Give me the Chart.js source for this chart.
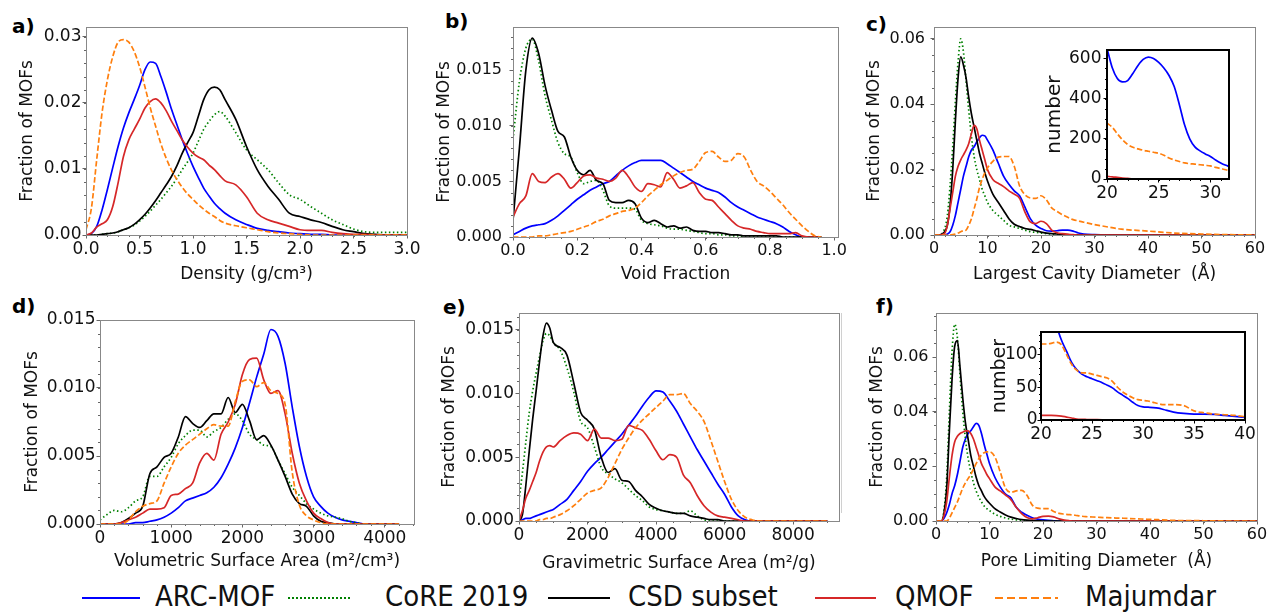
<!DOCTYPE html>
<html>
<head>
<meta charset="utf-8">
<title>MOF property distributions</title>
<script src="https://cdn.jsdelivr.net/npm/chart.js@4.4.1/dist/chart.umd.min.js"></script>
<style>
  html, body { margin: 0; padding: 0; background: #fff; }
  #page { position: relative; width: 1271px; height: 613px; overflow: hidden; background: #fff; }
  #page canvas { position: absolute; }
  .tag { position: absolute; font: bold 20px/20px "DejaVu Sans", sans-serif; color: #000; }
  .key { position: absolute; height: 2px; top: 597px; }
  .keytxt { position: absolute; top: 582px; font: 29px/29px "DejaVu Sans Condensed", "DejaVu Sans", sans-serif; color: #111; white-space: nowrap; }
</style>
</head>
<body>
<div id="page">
  <div class="tag" style="left:12px; top:16px">a)</div>
  <div class="tag" style="left:445px; top:11px">b)</div>
  <div class="tag" style="left:866px; top:14px">c)</div>
  <div class="tag" style="left:12px; top:296px">d)</div>
  <div class="tag" style="left:443px; top:297px">e)</div>
  <div class="tag" style="left:876px; top:296px">f)</div>
  <div style="position:absolute; left:841px; top:313px; width:1px; height:200px; background:#d0d0d0"></div>

  <div class="key" style="left:82px; width:58px; background:#0000ff"></div>
  <div class="keytxt" style="left:155px">ARC-MOF</div>
  <div class="key" style="left:288px; width:64px; background:repeating-linear-gradient(to right, #008000 0 2px, transparent 2px 4px)"></div>
  <div class="keytxt" style="left:385px">CoRE 2019</div>
  <div class="key" style="left:548px; width:62px; background:#000"></div>
  <div class="keytxt" style="left:628px">CSD subset</div>
  <div class="key" style="left:815px; width:61px; background:#d62728"></div>
  <div class="keytxt" style="left:895px">QMOF</div>
  <div class="key" style="left:995px; width:63px; background:repeating-linear-gradient(to right, #ff7f0e 0 8px, transparent 8px 12px)"></div>
  <div class="keytxt" style="left:1085px">Majumdar</div>
</div>
<script>
// series: ARC-MOF, CoRE 2019, CSD subset, QMOF, Majumdar
const names = ['ARC-MOF', 'CoRE 2019', 'CSD subset', 'QMOF', 'Majumdar'];

// a) density
const xa = [0,0.05,0.1,0.15,0.2,0.25,0.3,0.35,0.4,0.45,0.5,0.55,0.6,0.65,0.7,0.75,0.8,0.85,0.9,0.95,1.0,1.05,1.1,1.15,1.2,1.25,1.3,1.4,1.5,1.6,1.7,1.8,1.9,2.0,2.1,2.2,2.3,2.4,2.5,2.6,2.7,2.8,3.0];
const aArc = [0,0.0002,0.0013,0.0038,0.0069,0.0102,0.0134,0.0162,0.0185,0.0205,0.0226,0.025,0.0262,0.026,0.024,0.0216,0.019,0.0167,0.0144,0.0123,0.0104,0.0087,0.0071,0.0059,0.0048,0.004,0.0033,0.0023,0.0016,0.001,0.0007,0.0005,0.0003,0.0002,0.0001,0.0001,0,0,0,0,0,0,0];
const aCore = [0,0,0,0.0001,0.0002,0.0003,0.0005,0.0008,0.0011,0.0015,0.0021,0.0028,0.0036,0.0045,0.0054,0.0064,0.0074,0.0086,0.0099,0.0111,0.0124,0.0142,0.016,0.0172,0.0182,0.0187,0.018,0.0155,0.0129,0.0114,0.0099,0.0079,0.0061,0.0054,0.0043,0.0033,0.0023,0.0016,0.0009,0.0005,0.0004,0.0004,0.0004];
const aCsd = [0,0,0,0.0001,0.0002,0.0003,0.0005,0.0008,0.0011,0.0016,0.0023,0.0031,0.0041,0.0052,0.0064,0.0076,0.0089,0.0105,0.0124,0.014,0.0155,0.018,0.0205,0.022,0.0224,0.022,0.0205,0.0175,0.0134,0.0099,0.0074,0.0054,0.0033,0.0028,0.0023,0.0019,0.0013,0.0008,0.0005,0.0002,0.0001,0,0];
const aQmof = [0,0.0003,0.0012,0.0017,0.0023,0.0043,0.0079,0.0119,0.0144,0.016,0.0175,0.0192,0.0202,0.0206,0.02,0.0188,0.0172,0.0158,0.0144,0.0133,0.0124,0.0118,0.0114,0.0106,0.0099,0.009,0.0082,0.0076,0.0058,0.0033,0.0023,0.0018,0.0013,0.0008,0.0007,0.0007,0.0004,0.0002,0.0001,0.0001,0,0,0];
const aMaj = [0.0008,0.004,0.0114,0.0185,0.0235,0.027,0.0292,0.0296,0.0292,0.0278,0.0255,0.0225,0.0193,0.0165,0.0138,0.0116,0.0098,0.0084,0.0072,0.0062,0.0054,0.0046,0.0039,0.0033,0.0028,0.0022,0.0018,0.0014,0.0011,0.0008,0.0005,0.0003,0.0002,0.0001,0,0,0,0,0,0,0,0,0];
const aXTicks = [0, 0.5, 1, 1.5, 2, 2.5, 3];
const aYTicks = [0, 0.01, 0.02, 0.03];

// b) void fraction
const xb = [0,0.02,0.04,0.06,0.08,0.1,0.12,0.14,0.16,0.18,0.2,0.22,0.24,0.26,0.28,0.3,0.32,0.34,0.36,0.38,0.4,0.42,0.44,0.46,0.48,0.5,0.52,0.54,0.56,0.58,0.6,0.62,0.64,0.66,0.68,0.7,0.72,0.74,0.76,0.78,0.8,0.82,0.84,0.86,0.88,0.9,0.92,0.94,0.96];
const bArc = [0.0002,0.0005,0.0008,0.001,0.0011,0.0012,0.0015,0.0019,0.0024,0.0029,0.0034,0.0038,0.0042,0.0045,0.0048,0.005,0.0055,0.006,0.0064,0.0067,0.0069,0.0069,0.0069,0.0069,0.0066,0.0062,0.0058,0.0054,0.005,0.0047,0.0044,0.0042,0.004,0.0036,0.0031,0.0027,0.0024,0.0021,0.0018,0.0016,0.0014,0.0012,0.0009,0.0005,0.0002,0,0,0,0];
const bCore = [0.0088,0.014,0.017,0.0178,0.0158,0.0127,0.0105,0.0085,0.0075,0.0072,0.0058,0.0048,0.005,0.0051,0.0042,0.0028,0.0026,0.0026,0.0026,0.0025,0.0015,0.0012,0.0011,0.001,0.0008,0.0007,0.0007,0.0006,0.0005,0.0004,0.0003,0.0003,0.0002,0.0002,0.0001,0.0001,0,0,0,0,0,0,0,0,0,0,0,0,0];
const bCsd = [0.0015,0.008,0.015,0.0179,0.0165,0.0136,0.0114,0.0095,0.009,0.0072,0.006,0.0056,0.006,0.0051,0.0048,0.0033,0.0031,0.0031,0.0033,0.003,0.0017,0.0013,0.0015,0.0012,0.0009,0.001,0.0008,0.0009,0.0006,0.0005,0.0005,0.0004,0.0004,0.0003,0.0002,0.0002,0.0001,0.0001,0.0001,0.0001,0.0001,0.0001,0,0,0,0,0,0,0];
const bQmof = [0.0018,0.003,0.0037,0.0057,0.005,0.0049,0.0054,0.0057,0.0052,0.0044,0.0049,0.0055,0.0056,0.0053,0.0052,0.005,0.0053,0.006,0.0054,0.0045,0.0041,0.0048,0.0047,0.0045,0.0058,0.0052,0.0044,0.0046,0.0049,0.004,0.0034,0.0033,0.0027,0.0021,0.0015,0.001,0.0008,0.0007,0.0005,0.0004,0.0003,0.0003,0.0003,0.0003,0.0004,0.0001,0,0,0];
const bMaj = [0,0,0,0,0.0001,0.0001,0.0002,0.0003,0.0004,0.0005,0.0007,0.0009,0.0011,0.0014,0.0016,0.0019,0.0021,0.0023,0.0024,0.0026,0.0031,0.0037,0.0042,0.0047,0.0051,0.0055,0.0058,0.006,0.0061,0.0068,0.0076,0.0077,0.0072,0.0068,0.0069,0.0075,0.0072,0.006,0.005,0.0046,0.0041,0.0035,0.0029,0.0022,0.0016,0.001,0.0005,0.0001,0];
const bXTicks = [0, 0.2, 0.4, 0.6, 0.8, 1];
const bYTicks = [0, 0.005, 0.01, 0.015];

// c) largest cavity diameter
const xc = [0,1,2,2.5,3,3.5,4,4.5,5,5.5,6,6.5,7,7.5,8,8.5,9,9.5,10,11,12,13,14,15,16,17,18,19,20,21,22,23,24,25,26,27,28,30,32,35,40,45,50,55,60];
const cArc = [0,0,0,0.0003,0.001,0.003,0.006,0.01,0.014,0.018,0.021,0.024,0.026,0.027,0.0285,0.0297,0.0305,0.0303,0.029,0.026,0.022,0.018,0.0155,0.0135,0.012,0.0085,0.005,0.003,0.002,0.0013,0.0012,0.0013,0.0015,0.0015,0.0012,0.0006,0.0003,0.0001,0,0,0,0,0,0,0];
const cCore = [0,0,0.002,0.006,0.015,0.027,0.041,0.053,0.06,0.056,0.047,0.038,0.03,0.024,0.02,0.017,0.014,0.012,0.01,0.0075,0.006,0.0045,0.003,0.0025,0.002,0.0015,0.001,0.0008,0.0006,0.0004,0.0003,0.0002,0.0001,0,0,0,0,0,0,0,0,0,0,0,0];
const cCsd = [0,0,0.001,0.003,0.009,0.02,0.035,0.048,0.0545,0.052,0.048,0.042,0.037,0.033,0.029,0.025,0.022,0.019,0.0165,0.0125,0.01,0.0075,0.005,0.0033,0.0026,0.002,0.0017,0.0013,0.0009,0.0006,0.0004,0.0003,0.0002,0.0001,0,0,0,0,0,0,0,0,0,0,0];
const cQmof = [0,0,0.0005,0.003,0.008,0.013,0.018,0.021,0.023,0.0245,0.026,0.028,0.031,0.0335,0.0325,0.029,0.026,0.023,0.02,0.017,0.0158,0.0148,0.0135,0.0125,0.0112,0.007,0.004,0.0035,0.0042,0.0035,0.0015,0.0007,0.0004,0.0002,0.0001,0,0,0,0,0,0,0,0,0,0];
const cMaj = [0,0,0,0,0,0.0001,0.0003,0.0006,0.001,0.0013,0.0015,0.003,0.005,0.008,0.011,0.0145,0.017,0.019,0.0205,0.0225,0.0238,0.024,0.024,0.021,0.015,0.0123,0.0113,0.0112,0.012,0.0108,0.0083,0.0072,0.0062,0.0054,0.0047,0.0043,0.0039,0.0032,0.0026,0.0018,0.0012,0.0006,0.0003,0.0001,0];
const cXTicks = [0, 10, 20, 30, 40, 50, 60];
const cYTicks = [0, 0.02, 0.04, 0.06];

// c) inset, counts
const xic = [20,20.5,21,21.5,22,22.5,23,23.5,24,24.5,25,25.5,26,26.5,27,27.5,28,28.5,29,29.5,30,30.5,31,31.5,31.8];
const icArc = [650,555,500,483,490,525,565,595,607,600,580,552,515,460,370,270,200,160,140,125,112,95,80,68,62];
const icQmof = [13,11,8,5,3,1,0,0,0,0,0,0,0,0,0,0,0,0,0,0,0,0,0,0,0];
const icMaj = [278,258,225,195,172,158,150,143,138,133,128,118,105,95,87,80,76,74,71,68,65,58,52,46,43];
const icXTicks = [20, 25, 30];
const icYTicks = [0, 200, 400, 600];

// d) volumetric surface area
const xd = [0,100,200,300,400,500,600,700,800,900,1000,1100,1200,1300,1400,1500,1600,1700,1800,1900,2000,2100,2200,2300,2400,2500,2600,2700,2800,2900,3000,3100,3200,3300,3400,3500,3600,3700,3800,3900,4000,4100,4200];
const dArc = [0,0,0,0,0,0.0001,0.0001,0.0002,0.0003,0.0005,0.0008,0.0012,0.0017,0.0019,0.0021,0.0023,0.0027,0.0034,0.0044,0.0056,0.0071,0.0089,0.0108,0.0125,0.0143,0.0138,0.0118,0.0086,0.0057,0.0035,0.002,0.0013,0.0008,0.0005,0.0003,0.0002,0.0001,0,0,0,0,0,0];
const dCore = [0.0003,0.0007,0.001,0.0009,0.0012,0.0017,0.002,0.0035,0.0035,0.0042,0.0049,0.0059,0.0065,0.0069,0.0069,0.0064,0.0068,0.0071,0.0077,0.0081,0.0076,0.0066,0.0062,0.0058,0.0057,0.0047,0.0037,0.0027,0.0021,0.0015,0.0011,0.0008,0.0006,0.0005,0.0004,0.0002,0.0001,0,0,0,0,0,0];
const dCsd = [0,0,0,0.0001,0.0004,0.0008,0.0013,0.0037,0.0042,0.0049,0.0052,0.0064,0.0079,0.0074,0.0071,0.0076,0.0081,0.0081,0.0093,0.0082,0.0088,0.0076,0.0062,0.0065,0.0058,0.0047,0.0035,0.0022,0.0015,0.0013,0.0006,0.0002,0.0001,0,0,0,0,0,0,0,0,0,0];
const dQmof = [0,0,0,0.0001,0.0003,0.0005,0.0008,0.0011,0.0011,0.0012,0.0021,0.0022,0.0026,0.003,0.0045,0.0052,0.0047,0.0066,0.0075,0.0088,0.011,0.0121,0.0122,0.0106,0.0096,0.0098,0.0081,0.0052,0.003,0.0017,0.0008,0.0004,0.0001,0,0,0,0,0,0,0,0,0,0];
const dMaj = [0,0,0,0,0.0003,0.0009,0.0013,0.0015,0.0017,0.003,0.0042,0.0052,0.0058,0.0062,0.0066,0.007,0.0073,0.0072,0.0072,0.009,0.0105,0.0106,0.0101,0.0104,0.0098,0.0096,0.0088,0.0038,0.0014,0.0006,0.0003,0.0001,0,0,0,0,0,0,0,0,0,0,0];
const dXTicks = [0, 1000, 2000, 3000, 4000];
const dYTicks = [0, 0.005, 0.01, 0.015];

// e) gravimetric surface area
const xe = [0,100,200,300,400,500,600,700,800,900,1000,1200,1400,1600,1800,2000,2200,2400,2600,2800,3000,3200,3400,3600,3800,4000,4200,4400,4600,4800,5000,5200,5400,5600,5800,6000,6200,6400,6600,6800,7000,7500,8000,8500,9000];
const eArc = [0,0.0001,0.0002,0.0002,0.0003,0.0004,0.0005,0.0006,0.0007,0.0008,0.0009,0.0013,0.0017,0.0024,0.0031,0.0039,0.0045,0.005,0.0056,0.0062,0.0068,0.0075,0.0082,0.009,0.0097,0.0102,0.0101,0.0094,0.0086,0.0076,0.0066,0.0056,0.0047,0.0038,0.0029,0.0021,0.0011,0.0004,0.0001,0,0,0,0,0,0];
const eCore = [0.0016,0.0038,0.0062,0.0085,0.0102,0.0116,0.0129,0.0141,0.0147,0.0145,0.014,0.0134,0.012,0.0101,0.0078,0.0073,0.0058,0.0042,0.0037,0.0033,0.003,0.0025,0.002,0.0016,0.0011,0.0009,0.0008,0.0007,0.0006,0.0006,0.0008,0.0004,0.0001,0,0,0,0,0,0,0,0,0,0,0,0];
const eCsd = [0,0.0005,0.0028,0.0055,0.008,0.0102,0.0125,0.0145,0.0155,0.0151,0.014,0.0136,0.013,0.0108,0.0085,0.0079,0.0072,0.005,0.0038,0.0041,0.0032,0.0031,0.0024,0.0019,0.0013,0.001,0.0008,0.0007,0.0006,0.0006,0.0004,0.0003,0.0002,0.0001,0.0001,0,0,0,0,0,0,0,0,0,0];
const eQmof = [0,0.0008,0.0018,0.0024,0.0031,0.0038,0.0047,0.0054,0.0058,0.0059,0.0058,0.0063,0.0067,0.0069,0.0068,0.0063,0.0072,0.0065,0.0065,0.0063,0.0064,0.0075,0.0073,0.0071,0.0064,0.0055,0.0048,0.0052,0.005,0.0036,0.003,0.002,0.0012,0.0007,0.0004,0.0003,0.0002,0.0001,0,0,0,0,0,0,0];
const eMaj = [0,0,0,0,0,0,0.0001,0.0001,0.0002,0.0002,0.0003,0.0005,0.0008,0.0012,0.0017,0.0022,0.0024,0.0026,0.0034,0.0045,0.0056,0.0065,0.0073,0.0079,0.0084,0.0089,0.0094,0.0099,0.0099,0.01,0.0092,0.0086,0.0078,0.0063,0.0047,0.0031,0.0017,0.0008,0.0003,0.0001,0,0,0,0,0];
const eXTicks = [0, 2000, 4000, 6000, 8000];
const eYTicks = [0, 0.005, 0.01, 0.015];

// f) pore limiting diameter
const xf = [0,0.5,1,1.5,2,2.5,3,3.5,4,4.5,5,5.5,6,6.5,7,7.5,8,8.5,9,9.5,10,11,12,13,14,15,16,17,18,19,20,21,22,23,24,25,26,27,28,30,32,35,40,45,50,55,60];
const fArc = [0,0,0,0.001,0.003,0.006,0.01,0.013,0.017,0.022,0.027,0.03,0.032,0.033,0.0345,0.0357,0.035,0.032,0.028,0.0245,0.021,0.016,0.0125,0.0098,0.0085,0.005,0.0032,0.0021,0.0012,0.0007,0.0004,0.0002,0.0001,0,0,0,0,0,0,0,0,0,0,0,0,0,0];
const fCore = [0,0,0,0.004,0.016,0.04,0.062,0.072,0.067,0.053,0.04,0.03,0.023,0.018,0.014,0.011,0.0088,0.007,0.0055,0.0045,0.0038,0.0025,0.0017,0.0011,0.0007,0.0004,0.0002,0.0001,0,0,0,0,0,0,0,0,0,0,0,0,0,0,0,0,0,0,0];
const fCsd = [0,0,0,0.003,0.012,0.033,0.052,0.064,0.066,0.056,0.045,0.036,0.03,0.024,0.02,0.016,0.013,0.011,0.009,0.0076,0.0065,0.0045,0.0033,0.0022,0.0014,0.0009,0.0005,0.0003,0.0002,0.0001,0,0,0,0,0,0,0,0,0,0,0,0,0,0,0,0,0];
const fQmof = [0,0,0,0.002,0.007,0.016,0.024,0.029,0.031,0.032,0.0325,0.033,0.033,0.032,0.03,0.027,0.024,0.021,0.019,0.017,0.0155,0.0125,0.011,0.0095,0.0078,0.005,0.0027,0.0013,0.0008,0.0012,0.0017,0.0018,0.0015,0.0008,0.0003,0.0001,0,0,0,0,0,0,0,0,0,0,0];
const fMaj = [0,0,0,0,0,0.001,0.003,0.005,0.007,0.0095,0.012,0.014,0.0155,0.017,0.019,0.021,0.0228,0.0242,0.025,0.0253,0.0253,0.0235,0.018,0.012,0.0105,0.011,0.0112,0.0094,0.0058,0.0047,0.0045,0.0045,0.0035,0.0028,0.0025,0.0023,0.0021,0.0018,0.0016,0.0014,0.0012,0.001,0.0006,0.0002,0.0001,0,0];
const fXTicks = [0, 10, 20, 30, 40, 50, 60];
const fYTicks = [0, 0.02, 0.04, 0.06];

// f) inset, counts
const xif = [20,20.5,21,21.5,22,22.5,23,23.5,24,24.5,25,25.5,26,26.5,27,27.5,28,28.5,29,29.5,30,30.5,31,31.5,32,33,34,35,36,37,38,39,40];
const ifArc = [230,200,172,145,122,105,88,77,70,66,63,60,57,53,49,43,38,33,27,22,20,19.5,19,18,16,12,10,9,9,8.5,7,5.5,4];
const ifQmof = [7,7,7,6.8,6,4.5,3,1.5,1,0.8,0.6,0.5,0.3,0,0,0,0,0,0,0,0,0,0,0,0,0,0,0,0,0,0,0,0];
const ifMaj = [116,116,117,119,115,100,85,76,72,72,70,68,66,64,59,50,43,38,34,31,30,29,27,25,23.5,23.5,22,14,11,9,8,7,5];
const ifXTicks = [20, 25, 30, 35, 40];
const ifYTicks = [0, 50, 100];

// line styles, one per series
const colors = ['#0000ff', '#008000', '#000000', '#d62728', '#ff7f0e'];
const dashes = [[], [1.5, 2.5], [], [], [5.5, 2.5]];

Chart.defaults.font.family = "'DejaVu Sans', sans-serif";
Chart.defaults.color = '#111';

const page = document.getElementById('page');

function minorTicks(ctx, scale, step, horizontal, a) {
  if (!step) return;
  const n0 = Math.ceil(scale.min / step - 1e-9);
  const n1 = Math.floor(scale.max / step + 1e-9);
  ctx.beginPath();
  for (let i = n0; i <= n1; i++) {
    const p = Math.round(scale.getPixelForValue(i * step)) + 0.5;
    if (horizontal) { ctx.moveTo(p, a.bottom); ctx.lineTo(p, a.bottom + 2); }
    else { ctx.moveTo(a.left - 2, p); ctx.lineTo(a.left, p); }
  }
  ctx.stroke();
}

const framePlugin = {
  id: 'frame',
  beforeDraw(chart, args, o) {
    if (!o.fill) return;
    const a = chart.chartArea, ctx = chart.ctx;
    ctx.save();
    ctx.fillStyle = '#fff';
    ctx.fillRect(a.left, a.top, a.right - a.left, a.bottom - a.top);
    ctx.restore();
  },
  afterDraw(chart, args, o) {
    const a = chart.chartArea, ctx = chart.ctx;
    ctx.save();
    ctx.strokeStyle = o.tickColor;
    ctx.lineWidth = 1;
    minorTicks(ctx, chart.scales.x, o.minorX, true, a);
    minorTicks(ctx, chart.scales.y, o.minorY, false, a);
    ctx.strokeStyle = o.color;
    ctx.lineWidth = o.width;
    const off = o.width % 2 ? 0.5 : 0;
    ctx.strokeRect(Math.round(a.left) + off, Math.round(a.top) + off,
      Math.round(a.right - a.left), Math.round(a.bottom - a.top));
    ctx.restore();
  }
};

function plot(p) {
  const [bx, by, bw, bh] = p.box;
  const [l, t, r, b] = p.area;
  const cv = document.createElement('canvas');
  cv.width = bw; cv.height = bh;
  cv.style.left = bx + 'px'; cv.style.top = by + 'px';
  page.appendChild(cv);

  const datasets = p.series.map(([k, ys]) => ({
    label: names[k],
    data: p.xs.map((x, i) => ({ x: x, y: ys[i] })),
    borderColor: colors[k],
    borderWidth: 1.7,
    borderDash: dashes[k],
    pointRadius: 0,
    cubicInterpolationMode: 'monotone',
    fill: false,
    order: 4 - k
  }));

  const tickCol = p.inset ? '#000' : '#666';
  const axisBase = (ticks, dec, size, pad) => ({
    type: 'linear',
    afterBuildTicks: s => { s.ticks = ticks.map(v => ({ value: v })); },
    grid: { display: true, drawOnChartArea: false, drawTicks: true, tickLength: 3.5, tickColor: tickCol, tickWidth: 1 },
    border: { display: false },
    ticks: { autoSkip: false, maxRotation: 0, padding: pad, color: '#111',
      font: { size: size }, callback: v => v.toFixed(dec) }
  });

  const x = axisBase(p.xTicks, p.xDec, p.tickSize, p.xPad);
  x.min = p.xRange[0]; x.max = p.xRange[1];
  x.afterFit = s => { s.height = by + bh - b; };
  x.title = { display: !!p.xTitle, text: p.xTitle || '', color: '#111',
    font: { size: 17 }, padding: { top: 0, bottom: p.xTitlePad || 0 } };

  const y = axisBase(p.yTicks, p.yDec, p.tickSize, p.yPad);
  y.min = p.yRange[0]; y.max = p.yRange[1];
  y.afterFit = s => { s.width = l - bx; };
  y.title = { display: true, text: p.yTitle, color: '#111',
    font: { size: p.yTitleSize || 17 }, padding: { top: p.yTitlePad, bottom: 0 } };

  return new Chart(cv, {
    type: 'line',
    data: { datasets: datasets },
    options: {
      responsive: false,
      animation: false,
      events: [],
      layout: { padding: { left: 0, top: t - by, right: bx + bw - r, bottom: 0 } },
      plugins: {
        legend: { display: false },
        tooltip: { enabled: false },
        frame: {
          color: p.inset ? '#000' : '#888',
          width: p.inset ? 2 : 1,
          tickColor: tickCol,
          fill: !!p.inset,
          minorX: p.minor[0],
          minorY: p.minor[1]
        }
      },
      scales: { x: x, y: y }
    },
    plugins: [framePlugin]
  });
}

const frac = 'Fraction of MOFs';

plot({ box: [0, 0, 432, 290], area: [86, 27, 407, 235], xs: xa,
  series: [[0, aArc], [1, aCore], [2, aCsd], [3, aQmof], [4, aMaj]],
  xRange: [0, 3], yRange: [0, 0.0315], xTicks: aXTicks, yTicks: aYTicks, xDec: 1, yDec: 2,
  tickSize: 17, xPad: 1, yPad: 1, minor: [0.1, 0.002],
  xTitle: 'Density (g/cm\u00b3)', xTitlePad: 4.8, yTitle: frac, yTitlePad: 17.8 });

plot({ box: [420, 0, 432, 290], area: [513, 27, 838, 237], xs: xb,
  series: [[0, bArc], [1, bCore], [2, bCsd], [3, bQmof], [4, bMaj]],
  xRange: [0, 1.012], yRange: [0, 0.0189], xTicks: bXTicks, yTicks: bYTicks, xDec: 1, yDec: 3,
  tickSize: 16, xPad: 1, yPad: 7.5, minor: [0.05, 0.001],
  xTitle: 'Void Fraction', xTitlePad: 4.8, yTitle: frac, yTitlePad: 14.8 });

plot({ box: [850, 0, 421, 290], area: [934, 27, 1255, 235], xs: xc,
  series: [[0, cArc], [1, cCore], [2, cCsd], [3, cQmof], [4, cMaj]],
  xRange: [0, 60], yRange: [0, 0.0636], xTicks: cXTicks, yTicks: cYTicks, xDec: 0, yDec: 2,
  tickSize: 16, xPad: 1, yPad: 5.5, minor: [2, 0.005],
  xTitle: 'Largest Cavity Diameter  (\u00c5)', xTitlePad: 4.8, yTitle: frac, yTitlePad: 14.8 });

plot({ box: [0, 290, 432, 290], area: [100, 320, 414, 524], xs: xd,
  series: [[0, dArc], [1, dCore], [2, dCsd], [3, dQmof], [4, dMaj]],
  xRange: [0, 4410], yRange: [0, 0.015], xTicks: dXTicks, yTicks: dYTicks, xDec: 0, yDec: 3,
  tickSize: 17, xPad: 1, yPad: 1, minor: [200, 0.001],
  xTitle: 'Volumetric Surface Area (m\u00b2/cm\u00b3)', xTitlePad: 7.8, yTitle: frac, yTitlePad: 22.8 });

plot({ box: [420, 290, 432, 290], area: [519, 313, 839, 521], xs: xe,
  series: [[0, eArc], [1, eCore], [2, eCsd], [3, eQmof], [4, eMaj]],
  xRange: [0, 9340], yRange: [0, 0.0163], xTicks: eXTicks, yTicks: eYTicks, xDec: 0, yDec: 3,
  tickSize: 17, xPad: 1, yPad: 1.5, minor: [500, 0.001],
  xTitle: 'Gravimetric Surface Area (m\u00b2/g)', xTitlePad: 6.1, yTitle: frac, yTitlePad: 19.8 });

plot({ box: [850, 290, 421, 290], area: [936, 313, 1257, 521], xs: xf,
  series: [[0, fArc], [1, fCore], [2, fCsd], [3, fQmof], [4, fMaj]],
  xRange: [0, 60], yRange: [0, 0.0761], xTicks: fXTicks, yTicks: fYTicks, xDec: 0, yDec: 2,
  tickSize: 16, xPad: 1, yPad: 4, minor: [2, 0.005],
  xTitle: 'Pore Limiting Diameter  (\u00c5)', xTitlePad: 7.8, yTitle: frac, yTitlePad: 17.8 });

plot({ inset: true, box: [1030, 38, 230, 172], area: [1107, 49, 1229, 179], xs: xic,
  series: [[0, icArc], [3, icQmof], [4, icMaj]],
  xRange: [20, 31.8], yRange: [0, 641], xTicks: icXTicks, yTicks: icYTicks, xDec: 0, yDec: 0,
  tickSize: 17, xPad: 1, yPad: 2, minor: [1, 50],
  yTitle: 'number', yTitleSize: 20, yTitlePad: 12.7 });

plot({ inset: true, box: [975, 322, 290, 128], area: [1041, 332, 1245, 420], xs: xif,
  series: [[0, ifArc], [3, ifQmof], [4, ifMaj]],
  xRange: [20, 40], yRange: [0, 134], xTicks: ifXTicks, yTicks: ifYTicks, xDec: 0, yDec: 0,
  tickSize: 17, xPad: 1, yPad: 0, minor: [1, 10],
  yTitle: 'number', yTitleSize: 19, yTitlePad: 13.6 });
</script>
</body>
</html>
